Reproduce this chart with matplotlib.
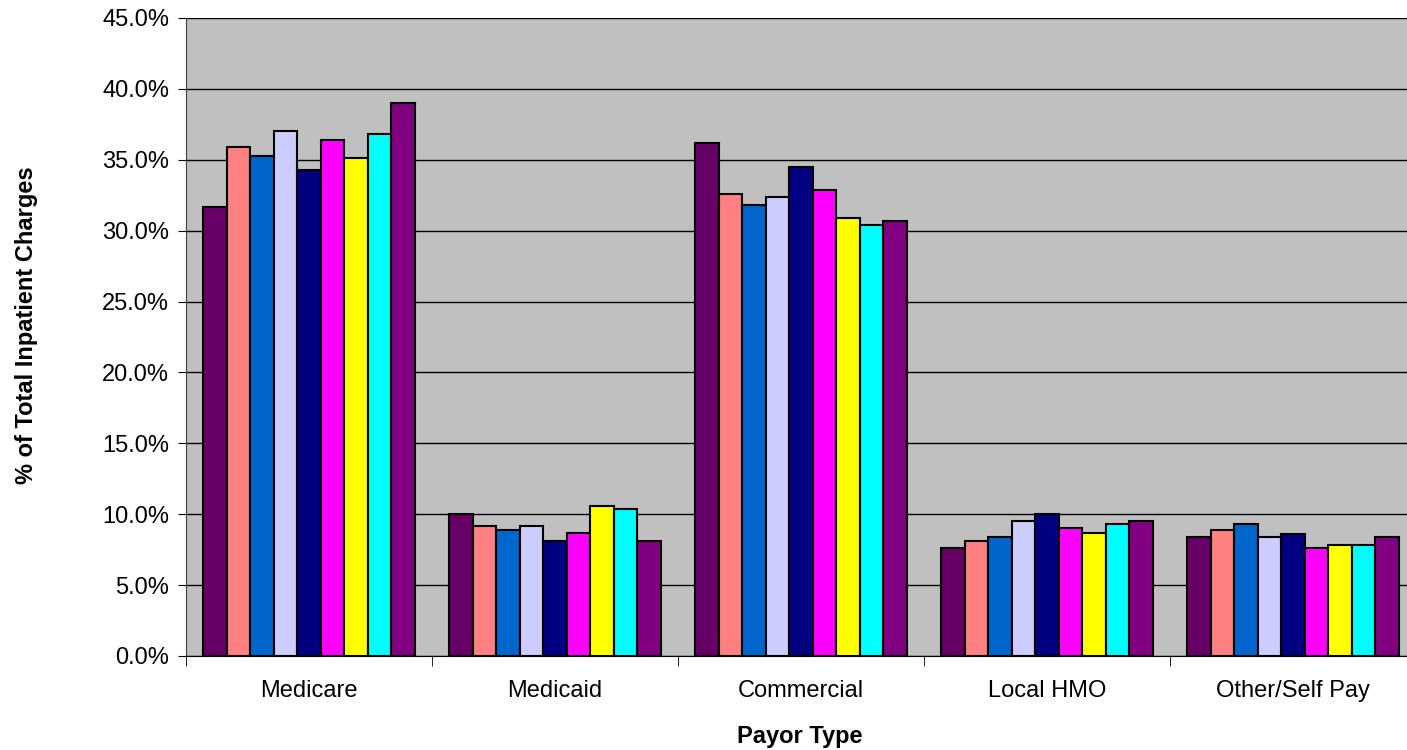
import numpy as np
import matplotlib.pyplot as plt
from matplotlib.ticker import PercentFormatter

plt.rcParams['font.family'] = ['Liberation Sans', 'DejaVu Sans']

# payor categories and the nine series (% of total inpatient charges)
payors = ['Medicare', 'Medicaid', 'Commercial', 'Local HMO', 'Other/Self Pay']
s1 = [31.7, 10.0, 36.2, 7.6, 8.4]
s2 = [35.9, 9.2, 32.6, 8.1, 8.9]
s3 = [35.3, 8.9, 31.8, 8.4, 9.3]
s4 = [37.0, 9.2, 32.4, 9.5, 8.4]
s5 = [34.3, 8.1, 34.5, 10.0, 8.6]
s6 = [36.4, 8.7, 32.9, 9.0, 7.6]
s7 = [35.1, 10.6, 30.9, 8.7, 7.8]
s8 = [36.8, 10.4, 30.4, 9.3, 7.8]
s9 = [39.0, 8.1, 30.7, 9.5, 8.4]
series = [s1, s2, s3, s4, s5, s6, s7, s8, s9]
colors = ['#660066', '#FF8080', '#0066CC', '#CCCCFF', '#000080',
          '#FF00FF', '#FFFF00', '#00FFFF', '#800080']

fig = plt.figure(figsize=(14.07, 7.5), dpi=100)
ax = fig.add_axes([186/1407, 94/750, (1416-186)/1407, 638/750])
ax.set_facecolor('#C0C0C0')

x = np.arange(len(payors))
w = 0.0956
n = len(series)
for i, (vals, c) in enumerate(zip(series, colors)):
    ax.bar(x + (i - (n - 1) / 2) * w, vals, width=w, color=c,
           edgecolor='black', linewidth=1.5, zorder=3)

ax.set_xlim(-0.5, len(payors) - 0.5)
ax.set_ylim(0, 45)
ax.set_yticks(np.arange(0, 46, 5))
ax.yaxis.set_major_formatter(PercentFormatter(decimals=1))
ax.grid(axis='y', color='black', linewidth=1.0, zorder=1)

ax.set_xticks(x)
ax.set_xticklabels(payors)
ax.set_xticks(np.arange(-0.5, len(payors), 1), minor=True)
ax.tick_params(axis='x', which='major', length=0, pad=17, labelsize=17)
ax.tick_params(axis='x', which='minor', length=7, direction='out', color='black')
ax.tick_params(axis='y', length=6, direction='out', labelsize=17, pad=6)

for side in ['top', 'right']:
    ax.spines[side].set_visible(False)
ax.spines['left'].set_color('#404040')
ax.spines['bottom'].set_color('black')

ax.set_xlabel('Payor Type', fontsize=17, fontweight='bold')
ax.xaxis.set_label_coords((800 - 186) / 1230, -(737 - 656) / 638)
ax.xaxis.label.set_va('center')
ax.set_ylabel('% of Total Inpatient Charges', fontsize=17, fontweight='bold')
ax.yaxis.set_label_coords(-0.130, 0.519)
ax.yaxis.label.set_va('center')

fig.savefig('out.png', dpi=100)
